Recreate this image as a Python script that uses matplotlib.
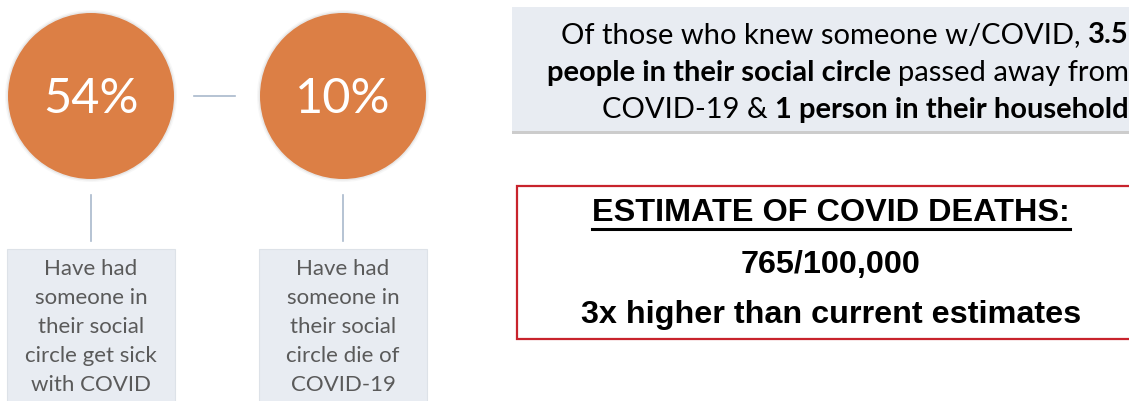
import matplotlib
matplotlib.use("Agg")
from matplotlib import pyplot as plt
from matplotlib.patches import Circle, Rectangle

W, H = 1129, 402

# headline numbers shown in the two circles
pct_values = [54, 10]
pct_captions = [
    ["Have had", "someone in", "their social", "circle get sick", "with COVID"],
    ["Have had", "someone in", "their social", "circle die of", "COVID-19"],
]

# callout: (text, bold) runs per line
callout_lines = [
    [("Of those who knew someone w/COVID,", False), ("3.5", True)],
    [("people in their social circle", True), ("passed away from", False)],
    [("COVID-19 &", False), ("1 person in their household", True)],
]

estimate_title = "ESTIMATE OF COVID DEATHS:"
deaths_per = 765
deaths_base = 100000
times_higher = 3

ORANGE = "#dc7f45"
PANEL = "#e8ecf2"
LINE = "#a9b9cc"
GREY_TXT = "#5a5a5a"
SANS = ["Lato", "DejaVu Sans"]
ARIAL = ["Liberation Sans", "DejaVu Sans"]

fig = plt.figure(figsize=(W / 100, H / 100), dpi=100)
ax = fig.add_axes([0, 0, 1, 1])
ax.set_xlim(0, W)
ax.set_ylim(H, 0)
ax.axis("off")

# circles with a soft halo, connector lines and caption panels
centers_x = [91, 343]
cy, r = 97, 83
for i, (cx, val) in enumerate(zip(centers_x, pct_values)):
    for k, a in [(3, 0.06), (1.5, 0.12)]:
        ax.add_patch(Circle((cx, cy), r + k, color="#808080", alpha=a, lw=0))
    ax.add_patch(Circle((cx, cy), r, color=ORANGE, lw=0))
    ax.text(cx, cy + 2, f"{val}%", color="white", fontsize=35,
            family=SANS, ha="center", va="center")
    ax.plot([cx, cx], [196, 242], color=LINE, lw=1.2)
    ax.add_patch(Rectangle((cx - 84, 250), 168, 160, facecolor=PANEL,
                           edgecolor="#dde2e8", lw=0.8))
    for j, line in enumerate(pct_captions[i]):
        ax.text(cx, 269 + 29 * j, line, color=GREY_TXT, fontsize=16,
                family=SANS, ha="center", va="center")

ax.plot([194, 235], [97, 97], color=LINE, lw=1.2)

# callout panel (runs off the right edge)
ax.add_patch(Rectangle((512, 10), 640, 125, facecolor="#9a9a9a", alpha=0.5, lw=0))
ax.add_patch(Rectangle((512, 8), 640, 124, facecolor=PANEL, lw=0))

fig.canvas.draw()
renderer = fig.canvas.get_renderer()


def text_width(s, bold, size):
    t = ax.text(0, 0, s, fontsize=size, family=SANS,
                fontweight="bold" if bold else "normal")
    w = t.get_window_extent(renderer).width
    t.remove()
    return w


def draw_runs(x_right, y, runs, size):
    gap = text_width("x x", False, size) - text_width("xx", False, size)
    x = x_right
    for s, bold in reversed(runs):
        t = ax.text(x, y, s, fontsize=size, family=SANS, color="black",
                    fontweight="bold" if bold else "normal",
                    ha="right", va="center")
        x -= t.get_window_extent(renderer).width + gap


for j, runs in enumerate(callout_lines):
    draw_runs(1129, 35 + 37.5 * j, runs, 21)

# estimate box with red border
ax.add_patch(Rectangle((517, 187), 640, 153, facecolor="white",
                       edgecolor="#c8232c", lw=1.6))
cxe = 831
fs = 23.3
t = ax.text(cxe, 213, estimate_title, fontsize=fs, fontweight="bold",
            family=ARIAL, ha="center", va="center")
bb = t.get_window_extent(renderer)
ax.plot([bb.x0, bb.x1], [230, 230], color="black", lw=2.2)
ax.text(cxe, 265, f"{deaths_per}/{deaths_base:,}", fontsize=fs,
        fontweight="bold", family=ARIAL, ha="center", va="center")
ax.text(cxe, 315, f"{times_higher}x higher than current estimates",
        fontsize=fs, fontweight="bold", family=ARIAL, ha="center", va="center")

fig.savefig("out.png", dpi=100, facecolor="white")
